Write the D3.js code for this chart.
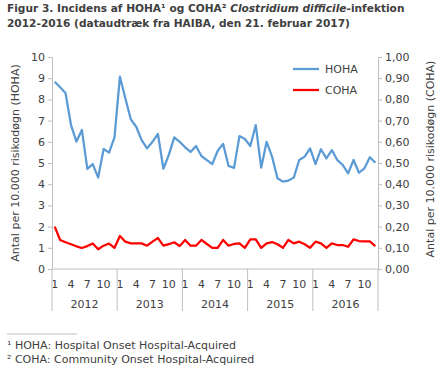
<!DOCTYPE html>
<html>
<head>
<meta charset="utf-8">
<script src="https://cdn.jsdelivr.net/npm/d3@7"></script>
<style>
  body { margin: 0; background: #fff; }
  svg { font-family: "DejaVu Sans", Verdana, sans-serif; }
</style>
</head>
<body>
<div id="chart"></div>
<script>
const years = [2012, 2013, 2014, 2015, 2016];
const monthTicks = [1, 4, 7, 10];
const hoha = [
  8.83, 8.57, 8.29, 6.79, 6.01, 6.56, 4.72, 4.95, 4.31, 5.66, 5.49, 6.21,
  9.07, 8.05, 7.06, 6.71, 6.08, 5.69, 6.00, 6.37, 4.73, 5.38, 6.21, 6.00,
  5.74, 5.52, 5.80, 5.33, 5.14, 4.95, 5.58, 5.90, 4.86, 4.77, 6.27, 6.13,
  5.80, 6.79, 4.78, 6.00, 5.30, 4.28, 4.12, 4.17, 4.31, 5.14, 5.30, 5.69,
  4.95, 5.65, 5.22, 5.61, 5.14, 4.91, 4.51, 5.14, 4.54, 4.75, 5.27, 5.01
];
const coha = [
  0.200, 0.137, 0.126, 0.117, 0.107, 0.099, 0.108, 0.120, 0.093, 0.110, 0.120, 0.100,
  0.156, 0.129, 0.121, 0.121, 0.121, 0.110, 0.129, 0.146, 0.110, 0.117, 0.126, 0.108,
  0.137, 0.110, 0.110, 0.137, 0.118, 0.100, 0.100, 0.137, 0.110, 0.118, 0.121, 0.100,
  0.140, 0.140, 0.100, 0.121, 0.127, 0.117, 0.100, 0.137, 0.121, 0.129, 0.117, 0.100,
  0.129, 0.121, 0.100, 0.121, 0.113, 0.113, 0.105, 0.140, 0.132, 0.130, 0.130, 0.108
];
const leftTicks = d3.range(0, 11, 1);
const rightTicks = d3.range(0, 1.01, 0.1);

const width = 440, height = 370;
const margin = {top: 57, right: 62, bottom: 101, left: 52};
const textColor = '#404040';
const axisColor = '#bfbfbf';

const svg = d3.select('#chart').append('svg')
  .attr('width', width)
  .attr('height', height);

// title
const title = svg.append('text')
  .attr('fill', textColor)
  .attr('font-weight', 'bold')
  .attr('font-size', 10.6);
const l1 = title.append('tspan').attr('x', 7).attr('y', 12);
l1.append('tspan').text('Figur 3. Incidens af HOHA\u00b9 og COHA\u00b2 ');
l1.append('tspan').attr('font-style', 'italic').text('Clostridium difficile');
l1.append('tspan').text('-infektion');
title.append('tspan').attr('x', 7).attr('y', 27)
  .text('2012-2016 (dataudtræk fra HAIBA, den 21. februar 2017)');

const plotW = width - margin.left - margin.right;
const plotH = height - margin.top - margin.bottom;

const months = d3.range(hoha.length);
const x = d3.scaleBand().domain(months).range([margin.left, margin.left + plotW]);
const yLeft = d3.scaleLinear().domain([0, 10]).range([margin.top + plotH, margin.top]);
const yRight = d3.scaleLinear().domain([0, 1]).range([margin.top + plotH, margin.top]);
const cx = i => x(i) + x.bandwidth() / 2;

// left axis
const gl = svg.append('g')
  .attr('transform', `translate(${margin.left},0)`)
  .call(d3.axisLeft(yLeft).tickValues(leftTicks).tickSize(4).tickPadding(3).tickFormat(d3.format('d')));
// right axis
const gr = svg.append('g')
  .attr('transform', `translate(${margin.left + plotW},0)`)
  .call(d3.axisRight(yRight).tickValues(rightTicks).tickSize(4).tickPadding(3)
    .tickFormat(d => d3.format('.2f')(d).replace('.', ',')));
[gl, gr].forEach(g => {
  g.select('.domain').attr('stroke', axisColor);
  g.selectAll('.tick line').attr('stroke', axisColor);
  g.selectAll('.tick text').attr('fill', textColor).attr('font-size', 11)
    .attr('font-family', '"DejaVu Sans", Verdana, sans-serif');
});

// x axis: baseline, month labels, year groups
const baseY = margin.top + plotH;
svg.append('line')
  .attr('x1', margin.left).attr('x2', margin.left + plotW)
  .attr('y1', baseY).attr('y2', baseY)
  .attr('stroke', axisColor);

const monthLabels = [];
years.forEach((yr, yi) => monthTicks.forEach(m => monthLabels.push({i: yi * 12 + m - 1, m})));
svg.selectAll('.mlab').data(monthLabels).enter().append('text')
  .attr('class', 'mlab')
  .attr('x', d => cx(d.i))
  .attr('y', baseY + 19)
  .attr('text-anchor', 'middle')
  .attr('font-size', 11)
  .attr('fill', textColor)
  .text(d => d.m);

const yearBounds = years.map((yr, yi) => ({yr, x0: x(yi * 12), x1: x(yi * 12 + 11) + x.bandwidth()}));
svg.selectAll('.ysep').data(yearBounds.map(d => d.x0).concat([margin.left + plotW])).enter().append('line')
  .attr('x1', d => d).attr('x2', d => d)
  .attr('y1', baseY).attr('y2', baseY + 42)
  .attr('stroke', axisColor);
svg.selectAll('.ylab').data(yearBounds).enter().append('text')
  .attr('x', d => (d.x0 + d.x1) / 2)
  .attr('y', baseY + 39)
  .attr('text-anchor', 'middle')
  .attr('font-size', 11)
  .attr('fill', textColor)
  .text(d => d.yr);

// axis titles
svg.append('text')
  .attr('transform', `translate(19,${margin.top + plotH / 2}) rotate(-90)`)
  .attr('text-anchor', 'middle')
  .attr('font-size', 11)
  .attr('fill', textColor)
  .text('Antal per 10.000 risikodøgn (HOHA)');
svg.append('text')
  .attr('transform', `translate(434,${margin.top + plotH / 2 - 4}) rotate(-90)`)
  .attr('text-anchor', 'middle')
  .attr('font-size', 11)
  .attr('fill', textColor)
  .text('Antal per 10.000 risikodøgn (COHA)');

// lines
svg.append('path').datum(hoha)
  .attr('fill', 'none')
  .attr('stroke', '#5b9bd5')
  .attr('stroke-width', 2.25)
  .attr('stroke-linejoin', 'round')
  .attr('d', d3.line().x((d, i) => cx(i)).y(d => yLeft(d)));
svg.append('path').datum(coha)
  .attr('fill', 'none')
  .attr('stroke', '#ff0000')
  .attr('stroke-width', 2.25)
  .attr('stroke-linejoin', 'round')
  .attr('d', d3.line().x((d, i) => cx(i)).y(d => yRight(d)));

// legend
const legend = [{name: 'HOHA', color: '#5b9bd5'}, {name: 'COHA', color: '#ff0000'}];
const lg = svg.selectAll('.leg').data(legend).enter().append('g')
  .attr('transform', (d, i) => `translate(293,${69 + i * 21})`);
lg.append('line').attr('x1', 0).attr('x2', 26).attr('stroke', d => d.color).attr('stroke-width', 2.25);
lg.append('text').attr('x', 32).attr('dy', '0.35em')
  .attr('font-size', 11).attr('fill', textColor).text(d => d.name);

// footnotes
svg.append('line').attr('x1', 7).attr('x2', 77).attr('y1', 334).attr('y2', 334).attr('stroke', axisColor);
const notes = ['\u00b9 HOHA: Hospital Onset Hospital-Acquired', '\u00b2 COHA: Community Onset Hospital-Acquired'];
svg.selectAll('.note').data(notes).enter().append('text')
  .attr('x', 7)
  .attr('y', (d, i) => 349 + i * 14)
  .attr('font-size', 11)
  .attr('fill', textColor)
  .text(d => d);
</script>
</body>
</html>
